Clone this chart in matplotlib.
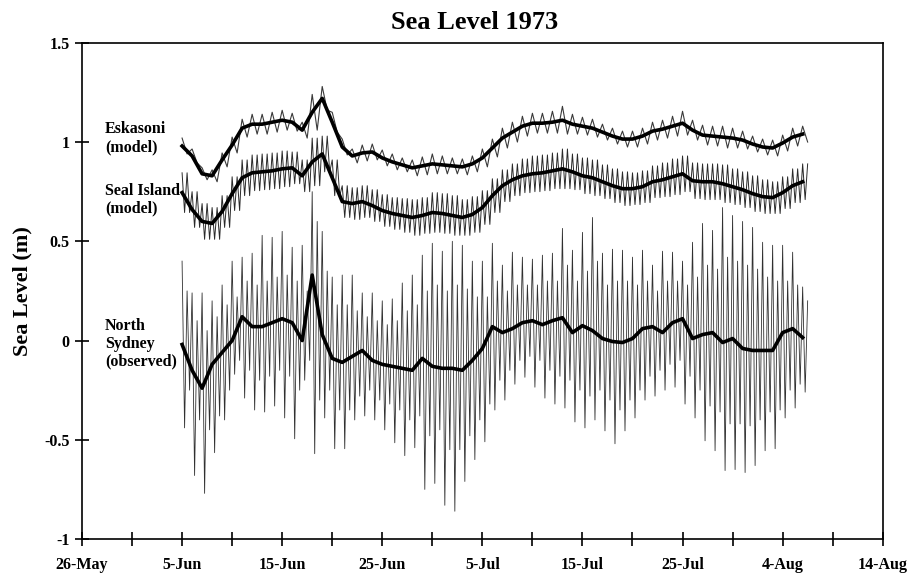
import numpy as np
import matplotlib
matplotlib.use("Agg")
import matplotlib.pyplot as plt
import matplotlib.dates as mdates
from matplotlib.ticker import FixedLocator, FuncFormatter
from datetime import datetime

plt.rcParams['font.family'] = ['Liberation Serif', 'DejaVu Serif']
plt.rcParams['font.weight'] = 'bold'

# first day of the record, one value per day from here on
START = datetime(1973, 6, 5)
X_FROM = datetime(1973, 5, 26)
X_TO = datetime(1973, 8, 14)

# Eskasoni (model): daily mean level and tidal half-range (m)
eskasoni_mean = [
    0.98, 0.93, 0.84, 0.83, 0.91, 0.985, 1.07, 1.09, 1.09, 1.10,
    1.11, 1.10, 1.06, 1.15, 1.22, 1.10, 0.975, 0.93, 0.945, 0.95,
    0.92, 0.90, 0.885, 0.87, 0.88, 0.89, 0.885, 0.88, 0.875, 0.89,
    0.92, 0.97, 1.02, 1.05, 1.08, 1.095, 1.095, 1.10, 1.11, 1.09,
    1.08, 1.07, 1.05, 1.03, 1.015, 1.015, 1.03, 1.055, 1.065, 1.08,
    1.095, 1.06, 1.035, 1.03, 1.025, 1.02, 1.01, 0.99, 0.975, 0.97,
    0.995, 1.025, 1.04,
]
eskasoni_amp = [
    0.04, 0.035, 0.03, 0.03, 0.035, 0.04, 0.045, 0.05, 0.05, 0.05,
    0.05, 0.045, 0.04, 0.09, 0.06, 0.05, 0.04, 0.035, 0.04, 0.04,
    0.04, 0.04, 0.035, 0.04, 0.045, 0.05, 0.045, 0.04, 0.04, 0.04,
    0.045, 0.045, 0.05, 0.05, 0.05, 0.05, 0.05, 0.055, 0.07, 0.05,
    0.045, 0.045, 0.04, 0.04, 0.04, 0.04, 0.04, 0.045, 0.045, 0.05,
    0.06, 0.05, 0.05, 0.05, 0.055, 0.05, 0.045, 0.04, 0.04, 0.04,
    0.04, 0.045, 0.04,
]

# Seal Island (model)
seal_mean = [
    0.745, 0.66, 0.60, 0.59, 0.65, 0.74, 0.82, 0.845, 0.85, 0.855,
    0.865, 0.87, 0.83, 0.90, 0.94, 0.82, 0.70, 0.69, 0.70, 0.68,
    0.655, 0.64, 0.63, 0.62, 0.63, 0.645, 0.64, 0.63, 0.62, 0.635,
    0.67, 0.73, 0.78, 0.81, 0.83, 0.84, 0.845, 0.855, 0.865, 0.85,
    0.83, 0.82, 0.80, 0.78, 0.765, 0.765, 0.775, 0.80, 0.81, 0.825,
    0.84, 0.805, 0.80, 0.80, 0.79, 0.775, 0.76, 0.74, 0.725, 0.72,
    0.745, 0.78, 0.80,
]
seal_amp = [
    0.10, 0.09, 0.09, 0.08, 0.08, 0.085, 0.09, 0.09, 0.09, 0.09,
    0.09, 0.08, 0.08, 0.12, 0.09, 0.09, 0.08, 0.08, 0.08, 0.08,
    0.08, 0.08, 0.085, 0.09, 0.09, 0.10, 0.10, 0.10, 0.09, 0.09,
    0.085, 0.085, 0.08, 0.08, 0.085, 0.09, 0.09, 0.09, 0.10, 0.09,
    0.09, 0.09, 0.085, 0.085, 0.085, 0.08, 0.08, 0.08, 0.085, 0.09,
    0.09, 0.09, 0.09, 0.09, 0.095, 0.09, 0.09, 0.09, 0.085, 0.08,
    0.08, 0.085, 0.09,
]

# North Sydney (observed): daily mean, higher high / lower low water,
# and the lesser high / low water of the same day
sydney_mean = [
    -0.02, -0.15, -0.24, -0.12, -0.06, 0.0, 0.12, 0.07, 0.07, 0.09,
    0.11, 0.09, 0.0, 0.33, 0.03, -0.09, -0.11, -0.08, -0.05, -0.10,
    -0.12, -0.13, -0.14, -0.15, -0.09, -0.13, -0.14, -0.14, -0.15, -0.10,
    -0.04, 0.07, 0.04, 0.06, 0.09, 0.10, 0.08, 0.10, 0.115, 0.04,
    0.075, 0.05, 0.01, -0.005, -0.01, 0.01, 0.06, 0.07, 0.04, 0.09,
    0.11, 0.01, 0.03, 0.04, -0.01, 0.01, -0.04, -0.05, -0.05, -0.05,
    0.04, 0.06, 0.015,
]
sydney_high = [
    0.40, 0.24, 0.24, 0.20, 0.28, 0.40, 0.42, 0.44, 0.53, 0.52,
    0.55, 0.47, 0.48, 0.75, 0.55, 0.32, 0.33, 0.33, 0.24, 0.24,
    0.20, 0.21, 0.29, 0.33, 0.43, 0.49, 0.45, 0.50, 0.48, 0.40,
    0.40, 0.49, 0.38, 0.445, 0.42, 0.41, 0.43, 0.44, 0.565, 0.455,
    0.545, 0.62, 0.44, 0.46, 0.455, 0.42, 0.455, 0.38, 0.45, 0.445,
    0.40, 0.495, 0.59, 0.555, 0.67, 0.63, 0.60, 0.57, 0.495, 0.48,
    0.48, 0.445, 0.27,
]
sydney_low = [
    -0.44, -0.68, -0.77, -0.565, -0.40, -0.17, -0.29, -0.35, -0.36, -0.33,
    -0.39, -0.495, -0.20, -0.57, -0.39, -0.545, -0.545, -0.40, -0.38, -0.40,
    -0.45, -0.515, -0.58, -0.54, -0.75, -0.72, -0.83, -0.86, -0.71, -0.60,
    -0.51, -0.35, -0.30, -0.22, -0.185, -0.235, -0.29, -0.32, -0.34, -0.41,
    -0.44, -0.40, -0.455, -0.52, -0.455, -0.39, -0.30, -0.28, -0.25, -0.235,
    -0.32, -0.39, -0.505, -0.555, -0.655, -0.65, -0.665, -0.63, -0.555, -0.545,
    -0.39, -0.34, -0.26,
]
sydney_high2 = [
    0.25, 0.10, 0.05, 0.12, 0.18, 0.22, 0.30, 0.28, 0.30, 0.32,
    0.33, 0.30, 0.25, 0.60, 0.35, 0.18, 0.18, 0.15, 0.12, 0.10,
    0.08, 0.10, 0.15, 0.18, 0.25, 0.28, 0.25, 0.28, 0.26, 0.22,
    0.22, 0.30, 0.25, 0.28, 0.28, 0.28, 0.30, 0.30, 0.38, 0.30,
    0.35, 0.40, 0.28, 0.30, 0.30, 0.28, 0.30, 0.25, 0.30, 0.30,
    0.28, 0.32, 0.38, 0.36, 0.42, 0.40, 0.38, 0.36, 0.32, 0.30,
    0.30, 0.28, 0.20,
]
sydney_low2 = [
    -0.25, -0.40, -0.45, -0.38, -0.25, -0.10, -0.15, -0.20, -0.18, -0.15,
    -0.18, -0.25, -0.10, -0.30, -0.25, -0.35, -0.35, -0.28, -0.25, -0.30,
    -0.32, -0.35, -0.40, -0.38, -0.48, -0.45, -0.55, -0.55, -0.48, -0.40,
    -0.32, -0.20, -0.15, -0.10, -0.08, -0.10, -0.15, -0.18, -0.20, -0.25,
    -0.28, -0.25, -0.30, -0.35, -0.30, -0.25, -0.18, -0.15, -0.12, -0.10,
    -0.18, -0.25, -0.33, -0.36, -0.42, -0.42, -0.43, -0.40, -0.36, -0.35,
    -0.25, -0.22, -0.15,
]

station_labels = ["Eskasoni\n(model)", "Seal Island\n(model)",
                  "North\nSydney\n(observed)"]
label_levels = [1.02, 0.71, -0.015]


def daily_tide(high, low):
    # one high and one low water per day
    return np.column_stack([high, low]).ravel()


def twice_daily_tide(high, low, high2, low2):
    # semi-diurnal: two high and two low waters per day
    return np.column_stack([high, low, high2, low2]).ravel()[:-1]


t0 = mdates.date2num(START)
x0 = mdates.date2num(X_FROM)
x1 = mdates.date2num(X_TO)
days = t0 + np.arange(len(eskasoni_mean))
t_daily = np.column_stack([days, days + 0.5]).ravel()
t_semi = np.column_stack([days, days + 0.25, days + 0.5, days + 0.75]).ravel()[:-1]

e_mean = np.array(eskasoni_mean)
e_amp = np.array(eskasoni_amp)
s_mean = np.array(seal_mean)
s_amp = np.array(seal_amp)

fig = plt.figure(figsize=(9.12, 5.73), dpi=100)
ax = fig.add_axes([0.0899, 0.0593, 0.878, 0.866])

# thin tidal records
ax.plot(t_daily, daily_tide(e_mean + e_amp, e_mean - e_amp),
        color='#3a3a3a', lw=0.8)
ax.plot(t_semi, twice_daily_tide(s_mean + s_amp, s_mean - s_amp,
                                 s_mean + s_amp, s_mean - s_amp),
        color='#2a2a2a', lw=0.7)
ax.plot(t_semi, twice_daily_tide(sydney_high, sydney_low,
                                 sydney_high2, sydney_low2),
        color='#303030', lw=0.6)

# thick daily means
for series in (eskasoni_mean, seal_mean, sydney_mean):
    ax.plot(days, series, color='black', lw=2.6, zorder=5)

for text, level in zip(station_labels, label_levels):
    ax.text(x0 + 2.3, level, text, ha='left', va='center',
            fontsize=11.5, fontweight='bold', linespacing=1.15)

ax.set_xlim(x0, x1)
ax.set_ylim(-1, 1.5)
ax.set_yticks([-1, -0.5, 0, 0.5, 1, 1.5])
ax.yaxis.set_major_formatter(FuncFormatter(lambda v, p: f"{v:g}"))
ax.xaxis.set_major_locator(FixedLocator(np.arange(x0, x1 + 1, 10)))
ax.xaxis.set_minor_locator(FixedLocator(np.arange(x0 + 5, x1, 10)))
ax.xaxis.set_major_formatter(FuncFormatter(
    lambda v, p: f"{mdates.num2date(v).day}-{mdates.num2date(v).strftime('%b')}"))

ax.tick_params(axis='both', which='both', direction='inout', length=10,
               width=1.2, labelsize=11.5)
ax.tick_params(axis='x', pad=8)
ax.tick_params(axis='y', pad=4)
for s in ax.spines.values():
    s.set_linewidth(1.2)

ax.set_ylabel("Sea Level (m)", fontsize=16, fontweight='bold', labelpad=8)
ax.set_title("Sea Level 1973", fontsize=19, fontweight='bold', pad=10,
             x=0.49)

fig.savefig("out.png", dpi=100)
